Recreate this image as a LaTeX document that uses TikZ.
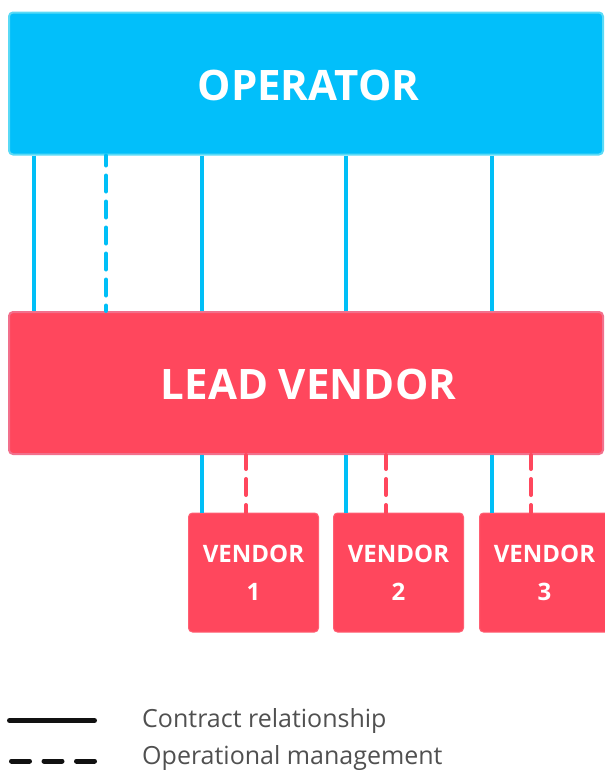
\documentclass[tikz,border=0pt]{standalone}
\usepackage{fontspec}
\setmainfont{Open Sans}
\definecolor{opfill}{HTML}{02BFFA}
\definecolor{opborder}{HTML}{5ADAF6}
\definecolor{lvfill}{HTML}{FF475D}
\definecolor{lvborder}{HTML}{F2708C}
\definecolor{vborder}{HTML}{FF5F73}
\definecolor{linecyan}{HTML}{00BFF7}
\definecolor{legtextc}{HTML}{505050}
\definecolor{leglinec}{HTML}{111111}
\begin{document}
\begin{tikzpicture}[x=1pt,y=-1pt,
  bigbox/.style={rounded corners=4pt, line width=2pt, inner sep=0pt,
    minimum width=594pt, minimum height=142pt, text=white,
    text height=33pt, text depth=0pt,
    font=\bfseries\fontsize{42}{48}\selectfont},
  opbox/.style={bigbox, draw=opborder, fill=opfill},
  lvbox/.style={bigbox, draw=lvborder, fill=lvfill},
  vbox/.style={rounded corners=4pt, line width=1pt, inner sep=0pt, draw=vborder, fill=lvfill,
    minimum width=130pt, minimum height=119pt, text=white, align=center,
    font=\bfseries\fontsize{24}{38}\selectfont},
  contract/.style={draw=linecyan, line width=4pt},
  opdash/.style={draw=linecyan, line width=4pt, line cap=round,
    dash pattern=on 16pt off 10pt, dash phase=6pt},
  mgmt/.style={draw=lvfill, line width=4pt, line cap=round,
    dash pattern=on 16pt off 10pt, dash phase=2pt},
  legsolid/.style={draw=leglinec, line width=5pt, line cap=round},
  legdash/.style={draw=leglinec, line width=5pt, line cap=round, dash pattern=on 18pt off 14.5pt},
  legtext/.style={text=legtextc, inner sep=0pt, anchor=base west, font=\fontsize{25}{30}\selectfont}
]
\clip (0,0) rectangle (605,771);
% connector x positions
\coordinate (xa) at (34,0);
\coordinate (xb) at (106,0);
\coordinate (xc) at (202,0);
\coordinate (xd) at (346,0);
\coordinate (xe) at (492,0);
\coordinate (xf) at (246,0);
\coordinate (xg) at (386,0);
\coordinate (xh) at (531,0);
% boxes
\node[opbox] (op) at (306,83.5) {\hspace*{5pt}OPERATOR};
\node[lvbox] (lv) at (306,383) {\hspace*{5pt}LEAD VENDOR};
\node[vbox] (v1) at (253.5,572.5) {VENDOR\\1};
\node[vbox] (v2) at (398.5,572.5) {VENDOR\\2};
\node[vbox] (v3) at (544.5,572.5) {VENDOR\\3};
% operator -> lead vendor
\draw[contract] (op.south -| xa) -- (lv.north -| xa);
\draw[opdash] (op.south -| xb) -- (lv.north -| xb);
\draw[contract] (op.south -| xc) -- (lv.north -| xc);
\draw[contract] (op.south -| xd) -- (lv.north -| xd);
\draw[contract] (op.south -| xe) -- (lv.north -| xe);
% lead vendor -> vendors
\draw[contract] (lv.south -| xc) -- (v1.north -| xc);
\draw[mgmt] (lv.south -| xf) -- (v1.north -| xf);
\draw[contract] (lv.south -| xd) -- (v2.north -| xd);
\draw[mgmt] (lv.south -| xg) -- (v2.north -| xg);
\draw[contract] (lv.south -| xe) -- (v3.north -| xe);
\draw[mgmt] (lv.south -| xh) -- (v3.north -| xh);
% legend
\coordinate (l1a) at (9.5,720.5);
\coordinate (l1b) at (94.5,720.5);
\coordinate (l2a) at (11.5,761);
\coordinate (l2b) at (94.5,761);
\draw[legsolid] (l1a) -- (l1b);
\draw[legdash] (l2a) -- (l2b);
\node[legtext] (t1) at (142,727.5) {Contract relationship};
\node[legtext] (t2) at (142,764) {Operational management};
\end{tikzpicture}
\end{document}
